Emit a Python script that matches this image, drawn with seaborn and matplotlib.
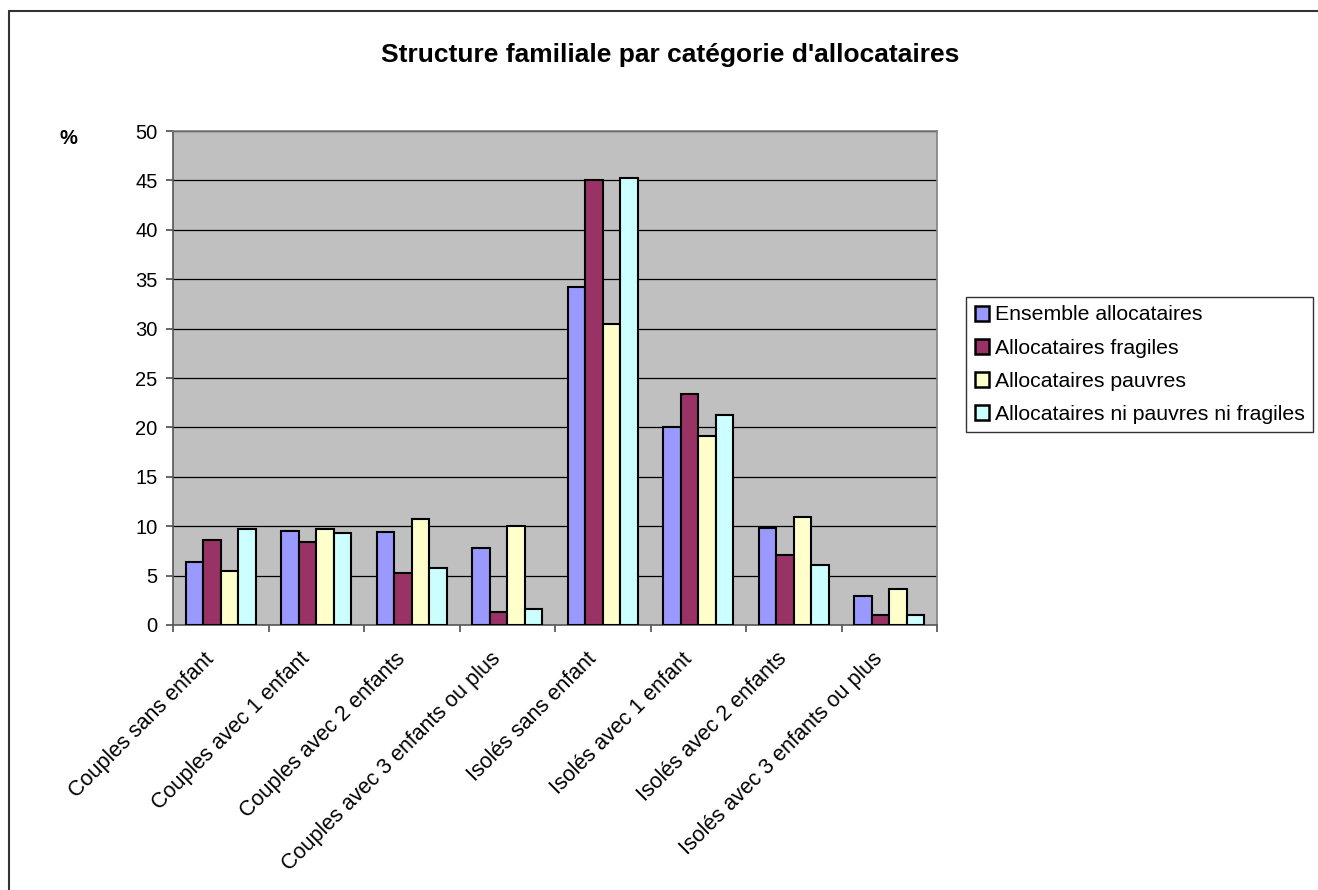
import matplotlib
matplotlib.use("Agg")
import matplotlib.pyplot as plt
import seaborn as sns
import pandas as pd
from matplotlib.patches import Rectangle
from matplotlib.lines import Line2D
from matplotlib.transforms import ScaledTranslation

categories = ["Couples sans enfant", "Couples avec 1 enfant", "Couples avec 2 enfants",
              "Couples avec 3 enfants ou plus", "Isolés sans enfant", "Isolés avec 1 enfant",
              "Isolés avec 2 enfants", "Isolés avec 3 enfants ou plus"]
series_names = ["Ensemble allocataires", "Allocataires fragiles", "Allocataires pauvres",
                "Allocataires ni pauvres ni fragiles"]
ensemble = [6.4, 9.5, 9.4, 7.8, 34.2, 20.0, 9.8, 2.9]
fragiles = [8.6, 8.4, 5.3, 1.3, 45.0, 23.4, 7.1, 1.0]
pauvres = [5.5, 9.7, 10.7, 10.0, 30.5, 19.1, 10.9, 3.6]
ni_ni = [9.7, 9.3, 5.8, 1.6, 45.2, 21.3, 6.1, 1.0]
colors = ["#9999FF", "#993366", "#FFFFCC", "#CCFFFF"]
yticks = list(range(0, 51, 5))

rows = []
for name, vals in zip(series_names, [ensemble, fragiles, pauvres, ni_ni]):
    for c, v in zip(categories, vals):
        rows.append({"cat": c, "serie": name, "val": v})
df = pd.DataFrame(rows)

sns.set_theme(style="white")
plt.rcParams['font.family'] = ['Liberation Sans', 'DejaVu Sans']
plt.rcParams['text.color'] = 'black'
plt.rcParams['xtick.color'] = 'black'
plt.rcParams['ytick.color'] = 'black'

fig = plt.figure(figsize=(13.18, 8.9), dpi=100)
ax = fig.add_axes([173/1318, 1-625/890, (937-173)/1318, (625-131)/890])
ax.set_facecolor("#C0C0C0")

sns.barplot(data=df, x="cat", y="val", hue="serie", order=categories, hue_order=series_names,
            palette=colors, width=0.735, edgecolor="black", linewidth=1.5, ax=ax,
            legend=False, saturation=1, errorbar=None, zorder=3)

ax.set_ylim(0, 50)
ax.set_xlim(-0.5, len(categories) - 0.5)
ax.set_yticks(yticks)
ax.set_yticklabels([str(t) for t in yticks], fontsize=14.5)
for t in yticks[1:]:
    ax.axhline(t, color="black", linewidth=0.9, zorder=1)
ax.set_xticks([i - 0.5 for i in range(len(categories) + 1)])
ax.set_xticklabels([])
# category labels, rotated, anchored at each category centre below the axis
offset = ScaledTranslation(-0.17, -0.235, fig.dpi_scale_trans)
for i, cat in enumerate(categories):
    ax.text(i, 0, cat, transform=ax.get_xaxis_transform() + offset, rotation=45,
            ha="right", va="top", rotation_mode="anchor", fontsize=15.5, color="black",
            clip_on=False)
ax.tick_params(axis="x", which="major", length=5, color="#555555", direction="out", bottom=True)
ax.tick_params(axis="y", length=5, color="#555555", direction="out", left=True, pad=6,
               labelcolor="black")
ax.set_xlabel("")
ax.set_ylabel("")
for s in ax.spines.values():
    s.set_color("#808080")
    s.set_linewidth(1.2)
ax.spines["left"].set_color("#555555")
ax.spines["bottom"].set_color("#555555")

fig.text(670/1318, 1-55/890, "Structure familiale par catégorie d'allocataires",
         ha="center", va="center", fontsize=19, fontweight="bold", color="black")
fig.text(68/1318, 1-138/890, "%", ha="center", va="center", fontsize=14.5, fontweight="bold",
         color="black")

handles = [Rectangle((0, 0), 1, 1, facecolor=c, edgecolor="black", linewidth=1.8) for c in colors]
leg = fig.legend(handles, series_names, loc="upper left",
                 bbox_to_anchor=(966/1318, 1-297/890), fontsize=15.3, frameon=True,
                 fancybox=False, edgecolor="black", handlelength=0.7, handleheight=0.7,
                 handletextpad=0.25, borderpad=0.4, labelspacing=0.66, borderaxespad=0)
leg.get_frame().set_linewidth(1.0)

fig.add_artist(Line2D([9/1318, 9/1318], [0, 1-11/890], color="#333333", linewidth=1.5,
                      transform=fig.transFigure))
fig.add_artist(Line2D([9/1318, 1], [1-11/890, 1-11/890], color="#333333", linewidth=1.5,
                      transform=fig.transFigure))

fig.savefig("out.png", dpi=100, facecolor="white")
